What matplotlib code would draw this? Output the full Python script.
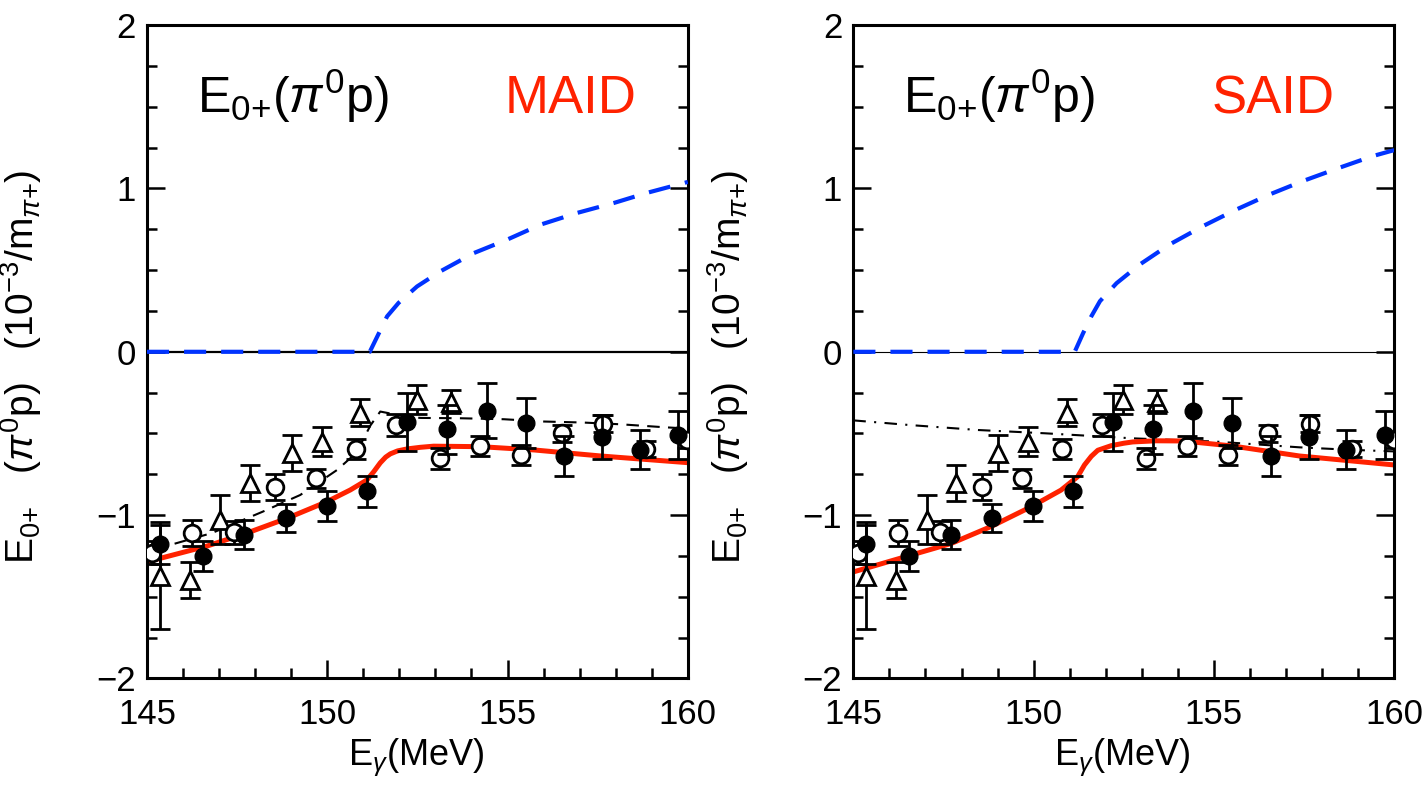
import matplotlib
matplotlib.use("Agg")
import matplotlib.pyplot as plt
from matplotlib.ticker import MultipleLocator

plt.rcParams['font.family'] = ['Liberation Sans', 'DejaVu Sans']
plt.rcParams['mathtext.fontset'] = 'custom'
plt.rcParams['mathtext.rm'] = 'Liberation Sans'
plt.rcParams['mathtext.it'] = 'Liberation Sans:italic'
plt.rcParams['mathtext.bf'] = 'Liberation Sans:bold'

# data points (same in both panels)
filled_x = [145.36, 146.55, 147.70, 148.85, 149.99, 151.10, 152.21, 153.32, 154.42, 155.50, 156.57, 157.63, 158.67, 159.74]
filled_y = [-1.18, -1.25, -1.12, -1.02, -0.945, -0.853, -0.43, -0.474, -0.36, -0.437, -0.638, -0.52, -0.60, -0.51]
filled_e = [0.12, 0.09, 0.09, 0.085, 0.09, 0.095, 0.18, 0.15, 0.17, 0.155, 0.12, 0.135, 0.12, 0.145]

open_x = [145.13, 146.24, 147.40, 148.56, 149.69, 150.80, 151.91, 153.12, 154.25, 155.38, 156.50, 157.66, 158.83, 159.99]
open_y = [-1.23, -1.11, -1.105, -0.83, -0.775, -0.595, -0.448, -0.652, -0.577, -0.632, -0.50, -0.44, -0.597, -0.54]
open_e = [0.07, 0.08, 0.07, 0.08, 0.06, 0.06, 0.07, 0.065, 0.06, 0.06, 0.05, 0.05, 0.05, 0.05]

tri_x = [145.36, 146.18, 147.03, 147.86, 149.02, 149.85, 150.92, 152.49, 153.42]
tri_y = [-1.37, -1.40, -1.03, -0.805, -0.62, -0.55, -0.372, -0.294, -0.305]
tri_e = [0.33, 0.11, 0.15, 0.11, 0.11, 0.09, 0.08, 0.09, 0.07]

# MAID curves
maid_red_x = [145.0, 146.66, 147.77, 148.88, 149.99, 150.64, 151.10, 151.29, 151.47, 151.62, 151.75, 151.95, 152.21, 152.58, 152.95, 154.25, 155.73, 157.58, 160.0]
maid_red_y = [-1.286, -1.19, -1.11, -1.02, -0.918, -0.846, -0.785, -0.734, -0.680, -0.645, -0.625, -0.607, -0.595, -0.585, -0.578, -0.581, -0.601, -0.638, -0.679]
maid_blue_x = [145.0, 151.18, 151.43, 151.66, 151.98, 152.49, 153.14, 154.07, 154.99, 155.92, 156.94, 157.96, 158.88, 160.0]
maid_blue_y = [0.0, 0.0, 0.113, 0.217, 0.30, 0.40, 0.493, 0.605, 0.687, 0.779, 0.851, 0.912, 0.974, 1.04]
maid_fit_x = [145.2, 145.69, 146.8, 147.77, 148.2, 149.25, 150.27, 150.8, 151.2, 151.47, 151.8, 152.2, 152.6, 153.69, 154.9, 156.0, 157.07, 158.14, 159.34, 160.0]
maid_fit_y = [-1.2, -1.18, -1.11, -1.02, -0.98, -0.877, -0.724, -0.62, -0.45, -0.366, -0.38, -0.40, -0.405, -0.407, -0.413, -0.427, -0.433, -0.444, -0.462, -0.47]

# SAID curves
said_red_x = [145.0, 146.6, 147.71, 148.82, 149.93, 150.76, 151.22, 151.41, 151.6, 151.78, 152.15, 152.5, 152.75, 153.4, 154.14, 155.52, 157.37, 160.0]
said_red_y = [-1.348, -1.245, -1.174, -1.07, -0.949, -0.847, -0.765, -0.693, -0.640, -0.603, -0.575, -0.560, -0.552, -0.545, -0.546, -0.577, -0.638, -0.693]
said_blue_x = [145.0, 151.14, 151.37, 151.60, 151.84, 152.30, 152.94, 153.77, 154.70, 155.62, 156.54, 157.46, 158.48, 159.40, 160.0]
said_blue_y = [0.0, 0.0, 0.113, 0.217, 0.31, 0.42, 0.534, 0.657, 0.77, 0.871, 0.963, 1.045, 1.127, 1.198, 1.235]
said_fit_x = [145.0, 146.53, 148.46, 150.31, 151.41, 152.75, 155.06, 157.37, 158.75, 160.0]
said_fit_y = [-0.42, -0.448, -0.479, -0.499, -0.513, -0.53, -0.55, -0.585, -0.60, -0.61]

fig = plt.figure(figsize=(14.27, 7.87), dpi=100)

def panel(rect, name, red_x, red_y, blue_x, blue_y, fit_x, fit_y, fit_dash, zero_lw):
    ax = fig.add_axes(rect)
    ax.set_xlim(145, 160)
    ax.set_ylim(-2, 2)
    ax.axhline(0, color='black', lw=zero_lw, zorder=1)
    ax.plot(fit_x, fit_y, color='black', lw=1.5, dashes=fit_dash, zorder=2)
    ax.plot(red_x, red_y, color='#ff2200', lw=3.6, zorder=2, solid_joinstyle='round')
    ax.plot(blue_x, blue_y, color='#0033ff', lw=3.0, dashes=(5.3, 3.6), zorder=5)
    ebkw = dict(ecolor='black', elinewidth=2, capsize=7, capthick=2, linestyle='none')
    ax.errorbar(tri_x, tri_y, yerr=tri_e, marker='^', ms=13, mfc='white', mec='black', mew=2, zorder=3, **ebkw)
    ax.errorbar(open_x, open_y, yerr=open_e, marker='o', ms=12, mfc='white', mec='black', mew=2, zorder=3, **ebkw)
    ax.errorbar(filled_x, filled_y, yerr=filled_e, marker='o', ms=12, mfc='black', mec='black', zorder=4, **ebkw)

    ax.xaxis.set_major_locator(MultipleLocator(5))
    ax.xaxis.set_minor_locator(MultipleLocator(1))
    ax.yaxis.set_major_locator(MultipleLocator(1))
    ax.yaxis.set_minor_locator(MultipleLocator(0.25))
    ax.tick_params(which='both', direction='in', left=True, right=True, bottom=True, top=False,
                   width=1.8, labelsize=25)
    ax.tick_params(which='major', length=13)
    ax.tick_params(which='minor', length=7)
    ax.tick_params(axis='x', pad=14)
    ax.tick_params(axis='y', pad=8)
    for s in ax.spines.values():
        s.set_linewidth(2.2)

    ax.text(0.092, 0.865, r'E$_{0{+}}$($\pi^{0}$p)', transform=ax.transAxes, fontsize=36, va='baseline')
    ax.text(0.662, 0.865, name, transform=ax.transAxes, fontsize=38, va='baseline', color='#ff2200')
    ax.set_xlabel(r'E$_{\gamma}$(MeV)', fontsize=26)
    ax.xaxis.set_label_coords(0.497, -0.09)
    ax.set_ylabel(r'E$_{0{+}}$   ($\pi^{0}$p)   (10$^{-3}$/m$_{\pi{+}}$)', fontsize=28)
    ax.yaxis.set_label_coords(-0.19, 0.477)
    return ax

panel([0.103, 0.138, 0.379, 0.830], 'MAID', maid_red_x, maid_red_y, maid_blue_x, maid_blue_y,
      maid_fit_x, maid_fit_y, (6, 4), 1.6)
panel([0.598, 0.138, 0.379, 0.830], 'SAID', said_red_x, said_red_y, said_blue_x, said_blue_y,
      said_fit_x, said_fit_y, (6, 4, 1, 4), 0.8)

plt.savefig('out.png', dpi=100)
